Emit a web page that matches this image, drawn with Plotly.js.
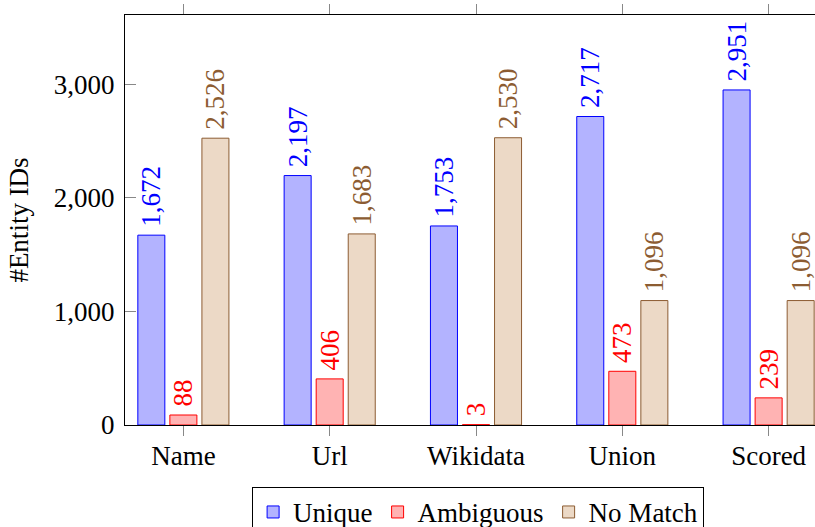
<!DOCTYPE html>
<html>
<head>
<meta charset="utf-8">
<script src="https://cdn.plot.ly/plotly-3.0.1.min.js"></script>
<style>
html, body { margin: 0; padding: 0; width: 815px; height: 527px; overflow: hidden; background: #fff; }
#chart { width: 840px; height: 560px; }
</style>
</head>
<body>
<div id="chart"></div>
<script>
const categories = ["Name", "Url", "Wikidata", "Union", "Scored"];
const uniqueVals = [1672, 2197, 1753, 2717, 2951];
const ambiguousVals = [88, 406, 3, 473, 239];
const noMatchVals = [2526, 1683, 2530, 1096, 1096];
const seriesNames = ["Unique", "Ambiguous", "No Match"];
const yTicks = [0, 1000, 2000, 3000];

const FONT = "Liberation Serif";
const FS = 27;
const brownLine = "rgb(140,92,50)";

function mk(name, vals, fill, line) {
  return {
    type: "bar",
    name: name,
    x: categories,
    y: vals,
    marker: { color: fill, line: { color: line, width: 1 } },
    texttemplate: "\u2009%{y:,d}",
    textposition: "outside",
    textangle: -90,
    constraintext: "none",
    cliponaxis: false,
    textfont: { family: FONT, size: FS, color: line },
    hoverinfo: "skip"
  };
}

const data = [
  mk(seriesNames[0], uniqueVals, "rgb(179,179,255)", "rgb(0,0,255)"),
  mk(seriesNames[1], ambiguousVals, "rgb(255,179,179)", "rgb(255,0,0)"),
  mk(seriesNames[2], noMatchVals, "rgb(236,217,198)", brownLine)
];

const layout = {
  width: 840,
  height: 560,
  margin: { l: 125, r: 13, t: 15, b: 135 },
  paper_bgcolor: "#fff",
  plot_bgcolor: "#fff",
  font: { family: FONT, size: FS, color: "#000" },
  barmode: "group",
  bargap: 0.343,
  bargroupgap: 0.157,
  showlegend: true,
  legend: {
    orientation: "h",
    x: 0.503, xanchor: "center",
    y: -0.151, yanchor: "top",
    bordercolor: "#000", borderwidth: 1,
    font: { family: FONT, size: FS, color: "#000" },
    traceorder: "normal"
  },
  xaxis: {
    type: "category",
    range: [-0.399, 4.399],
    showline: true, linecolor: "#000", linewidth: 1,
    mirror: "ticks",
    ticks: "outside", ticklen: 10, tickcolor: "#888", tickwidth: 1,
    showgrid: false, zeroline: false,
    ticklabelstandoff: -3,
    tickfont: { family: FONT, size: FS, color: "#000" }
  },
  yaxis: {
    range: [0, 3611],
    tickvals: yTicks,
    tickformat: ",d",
    showline: true, linecolor: "#000", linewidth: 1,
    mirror: "ticks",
    ticks: "inside", ticklen: 11, tickcolor: "#888", tickwidth: 1,
    showgrid: false, zeroline: false,
    ticklabelstandoff: 4,
    tickfont: { family: FONT, size: FS, color: "#000" },
    title: { text: "#Entity IDs", font: { family: FONT, size: FS, color: "#000" }, standoff: 17 },
    automargin: false
  }
};

Plotly.newPlot("chart", data, layout, { staticPlot: true, displayModeBar: false });
</script>
</body>
</html>
